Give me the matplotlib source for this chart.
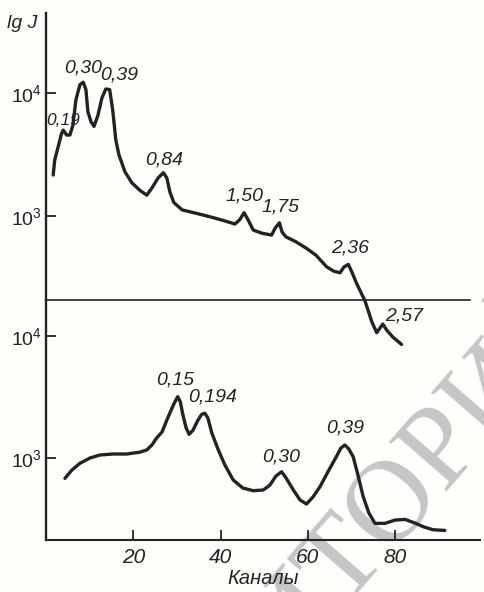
import matplotlib
matplotlib.use("Agg")
import matplotlib.pyplot as plt
import numpy as np

plt.rcParams["font.family"] = ["Liberation Sans", "DejaVu Sans"]
plt.rcParams["mathtext.fontset"] = "custom"
plt.rcParams["mathtext.rm"] = "Liberation Sans"
plt.rcParams["mathtext.it"] = "Liberation Sans:italic"
plt.rcParams["mathtext.default"] = "it"

# upper spectrum: channel number and lg J
ch_top = [1.65, 2.0, 3.58, 3.94, 4.72, 5.48, 6.17, 6.85, 7.77, 8.53, 9.15, 9.6,
          10.3, 11.0, 11.9, 12.8, 13.7, 14.6, 15.3, 16.0, 16.7, 18.1, 19.7, 21.5,
          23.1, 24.3, 25.7, 26.9, 27.7, 28.4, 29.3, 31.2, 34.1, 37.6, 41.0, 43.3,
          44.4, 45.4, 46.3, 47.5, 49.5, 51.7, 52.5, 53.5, 54.1, 55.0, 57.3, 59.7,
          61.9, 64.3, 66.0, 67.4, 68.3, 69.3, 70.1, 71.2, 73.1, 74.7, 75.8, 76.4,
          77.2, 78.1, 79.5, 81.5]
lg_top = [3.334, 3.456, 3.674, 3.70, 3.66, 3.66, 3.74, 3.945, 4.07, 4.09, 4.03, 3.85,
          3.77, 3.73, 3.82, 3.96, 4.035, 4.03, 3.86, 3.62, 3.50, 3.36, 3.27, 3.21,
          3.17, 3.23, 3.31, 3.353, 3.31, 3.195, 3.11, 3.05, 3.025, 2.994, 2.96, 2.935,
          2.97, 3.027, 2.97, 2.886, 2.86, 2.845, 2.90, 2.945, 2.87, 2.83, 2.79, 2.737,
          2.68, 2.587, 2.55, 2.538, 2.585, 2.606, 2.544, 2.45, 2.31, 2.136, 2.05, 2.08,
          2.12, 2.07, 2.014, 1.954]

# lower spectrum
ch_bot = [4.33, 5.94, 7.77, 10.06, 12.4, 15.3, 18.5, 21.5, 23.1, 24.3, 25.3, 26.6,
          27.9, 29.3, 30.2, 30.8, 31.3, 32.1, 32.8, 33.7, 34.8, 35.7, 36.4, 37.1,
          38.0, 39.5, 41.0, 42.9, 45.1, 47.5, 49.8, 51.3, 52.7, 54.0, 55.0, 56.7,
          58.2, 59.7, 61.2, 62.8, 64.6, 66.5, 67.6, 68.5, 69.4, 70.4, 71.5, 72.7,
          74.0, 75.4, 77.7, 80.0, 82.3, 84.6, 86.5, 88.7, 91.4]
lg_bot = [2.836, 2.904, 2.959, 3.002, 3.027, 3.035, 3.035, 3.05, 3.068, 3.11, 3.163, 3.215,
          3.33, 3.444, 3.504, 3.46, 3.368, 3.25, 3.196, 3.23, 3.31, 3.36, 3.368, 3.33,
          3.207, 3.068, 2.945, 2.823, 2.757, 2.735, 2.741, 2.78, 2.855, 2.89, 2.84, 2.741,
          2.66, 2.626, 2.684, 2.768, 2.888, 3.01, 3.084, 3.109, 3.076, 3.013, 2.863, 2.686,
          2.553, 2.468, 2.468, 2.495, 2.50, 2.47, 2.44, 2.416, 2.41]

# peak energies (MeV) and the channels they sit at
peaks_top = [3.94, 8.53, 13.7, 26.9, 45.4, 53.5, 69.3, 77.2]
labels_top = ["0,19", "0,30", "0,39", "0,84", "1,50", "1,75", "2,36", "2,57"]
peaks_bot = [30.2, 36.4, 54.0, 68.5]
labels_bot = ["0,15", "0,194", "0,30", "0,39"]

x_ticks = [20, 40, 60, 80]

INK = "#232323"
W, H = 484, 592

fig = plt.figure(figsize=(W / 100, H / 100), dpi=100, facecolor="#fefefb")

left, right = 46 / W, 480 / W
ax_top = fig.add_axes([left, (H - 300) / H, right - left, 287 / H])
ax_bot = fig.add_axes([left, (H - 540) / H, right - left, 240 / H])

xmax = (480 - 46.1) / 4.362
for ax in (ax_top, ax_bot):
    ax.set_facecolor("none")
    ax.set_yscale("log")
    ax.set_xlim(0, xmax)
    ax.spines["top"].set_visible(False)
    ax.spines["right"].set_visible(False)
    ax.spines["left"].set_linewidth(1.7)
    ax.spines["left"].set_color(INK)
    ax.minorticks_off()
    ax.set_yticks([1e3, 1e4])
    ax.set_yticklabels([r"$10^{3}$", r"$10^{4}$"])
    ax.tick_params(axis="y", direction="in", length=7, width=1.3, color=INK,
                   labelsize=14, labelcolor=INK, pad=3)

ax_top.set_ylim(10 ** 2.316, 10 ** 4.654)
ax_bot.set_ylim(10 ** 2.332, 10 ** 4.294)

# divider line between the two spectra
ax_top.spines["bottom"].set_linewidth(1.2)
ax_top.spines["bottom"].set_color(INK)
ax_top.spines["bottom"].set_bounds(0, (470 - 46.1) / 4.362)
ax_top.set_xticks([])

ax_bot.spines["bottom"].set_linewidth(1.5)
ax_bot.spines["bottom"].set_color(INK)
ax_bot.set_xticks(x_ticks)
ax_bot.set_xticklabels([str(v) for v in x_ticks], style="italic")
ax_bot.tick_params(axis="x", direction="in", length=7, width=1.3, color=INK,
                   labelsize=15, labelcolor=INK, pad=6)

ax_top.plot(ch_top, 10 ** np.array(lg_top), color=INK, lw=2.4,
            solid_joinstyle="round", solid_capstyle="round", clip_on=False)
ax_bot.plot(ch_bot, 10 ** np.array(lg_bot), color=INK, lw=2.4,
            solid_joinstyle="round", solid_capstyle="round", clip_on=False)

# peak labels, offsets in pixels from each peak top
offs_top = [(0, 10), (0, 14), (13, 14), (1, 13), (0, 17), (1, 16), (2, 16), (21, 8)]
for c, lab, (dx, dy) in zip(peaks_top, labels_top, offs_top):
    y = 10 ** np.interp(c, ch_top, lg_top)
    ax_top.annotate(lab, (c, y), xytext=(dx, dy), textcoords="offset pixels",
                    ha="center", va="center", style="italic",
                    fontsize=12.5 if lab == "0,19" else 14, color=INK,
                    annotation_clip=False)

offs_bot = [(-3, 17), (8, 16), (0, 15), (0, 17)]
for c, lab, (dx, dy) in zip(peaks_bot, labels_bot, offs_bot):
    y = 10 ** np.interp(c, ch_bot, lg_bot)
    ax_bot.annotate(lab, (c, y), xytext=(dx, dy), textcoords="offset pixels",
                    ha="center", va="center", style="italic", fontsize=14,
                    color=INK, annotation_clip=False)

fig.text(22 / W, 1 - 23 / H, "lg J", style="italic", fontsize=14, color=INK,
         ha="center", va="center")
fig.text(263 / W, 1 - 579 / H, "Каналы", style="italic", fontsize=14.5, color=INK,
         ha="center", va="center")

# library stamp across the lower right
fig.text(302 / W, 1 - 611 / H, "РЕПОЗИТОРИЙ", family="Liberation Serif",
         fontsize=84, color="#c6c6c6", rotation=49, rotation_mode="anchor",
         ha="center", va="center", zorder=-1)

fig.savefig("out.png", dpi=100, facecolor=fig.get_facecolor())
